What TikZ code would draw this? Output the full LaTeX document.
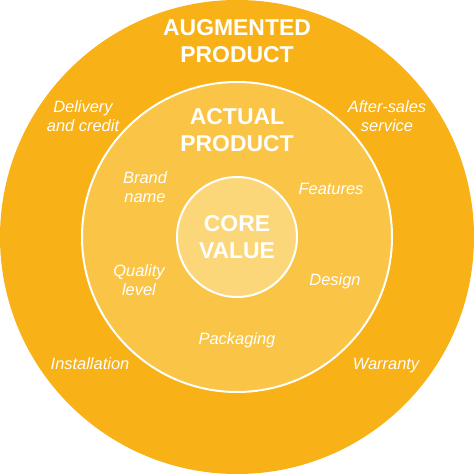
\documentclass[tikz,border=0pt]{standalone}
\usepackage{fontspec}
\setmainfont{Liberation Sans}
\definecolor{outerc}{RGB}{248,177,22}
\definecolor{midc}{RGB}{250,197,70}
\definecolor{corec}{RGB}{252,215,122}
\begin{document}
\begin{tikzpicture}[x=1bp,y=-1bp,
  ring/.style={circle,draw=white,line width=2bp,inner sep=0pt},
  head/.style={text=white,font=\bfseries\fontsize{23}{27.5}\selectfont,align=center,inner sep=0pt},
  item/.style={text=white,font=\itshape\fontsize{16.5}{19.5}\selectfont,align=center,inner sep=0pt}]
\useasboundingbox (0,0) rectangle (474,474);
\node[circle,fill=outerc,inner sep=0pt,minimum size=474bp] (outer) at (237,237) {};
\node[ring,fill=midc,minimum size=310bp] (actual) at (237,237) {};
\node[ring,fill=corec,minimum size=120bp] (core) at (237,237) {};
\node[head] (augt) at (237,41) {AUGMENTED\\PRODUCT};
\node[head] (actt) at (237,130) {ACTUAL\\PRODUCT};
\node[head] (coret) at (237,237) {CORE\\VALUE};
\node[item] (deliv) at (83,116) {Delivery\\and credit};
\node[item] (after) at (387,116) {After-sales\\service};
\node[item] (brand) at (145,187) {Brand\\name};
\node[item] (feat) at (331,189) {Features};
\node[item] (qual) at (139,280) {Quality\\level};
\node[item] (design) at (335,281) {Design};
\node[item] (pack) at (237,340) {Packaging};
\node[item] (inst) at (90,364) {Installation};
\node[item] (warr) at (386,366) {Warranty};
\end{tikzpicture}
\end{document}
